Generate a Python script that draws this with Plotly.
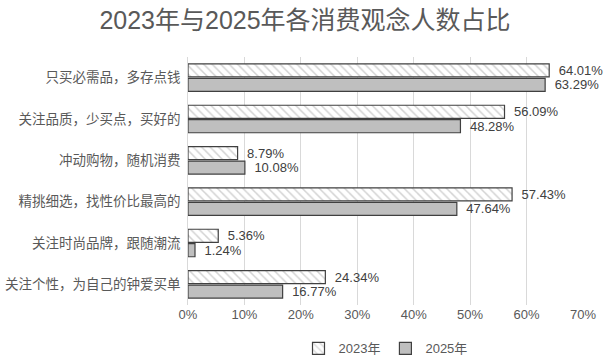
import plotly.graph_objects as go

categories = ["只买必需品，多存点钱", "关注品质，少买点，买好的", "冲动购物，随机消费",
              "精挑细选，找性价比最高的", "关注时尚品牌，跟随潮流", "关注个性，为自己的钟爱买单"]
v2023 = [64.01, 56.09, 8.79, 57.43, 5.36, 24.34]
v2025 = [63.29, 48.28, 10.08, 47.64, 1.24, 16.77]
ticks = [0, 10, 20, 30, 40, 50, 60, 70]

font = "Liberation Sans, Noto Sans CJK SC, sans-serif"
narrow = "Liberation Sans Narrow, Liberation Sans, sans-serif"

fig = go.Figure()
fig.add_trace(go.Bar(
    y=categories, x=v2023, orientation="h", name="2023年",
    marker=dict(color="white", line=dict(color="#404040", width=1.2),
                pattern=dict(shape="\\", fgcolor="#a6a6a6", bgcolor="white", size=6, solidity=0.25)),
    text=[f"\u2002{v:.2f}%" for v in v2023], textposition="outside", constraintext="none",
    textfont=dict(size=13, color="#404040", family=font), cliponaxis=False,
))
fig.add_trace(go.Bar(
    y=categories, x=v2025, orientation="h", name="2025年",
    marker=dict(color="#bfbfbf", line=dict(color="#404040", width=1.2)),
    text=[f"\u2002{v:.2f}%" for v in v2025], textposition="outside", constraintext="none",
    textfont=dict(size=13, color="#404040", family=font), cliponaxis=False,
))

fig.update_layout(
    width=610, height=362,
    margin=dict(l=188, r=27, t=57, b=57, autoexpand=False),
    paper_bgcolor="white", plot_bgcolor="white",
    title=dict(text="2023年与2025年各消费观念人数占比", x=0.5, xanchor="center", y=0.945, yanchor="middle",
               font=dict(size=25, color="#595959", family=font)),
    barmode="group", bargap=0.3, bargroupgap=0.1,
    font=dict(family=font, color="#595959", size=13),
    legend=dict(orientation="h", x=0.5, xanchor="center", y=-0.175, yanchor="middle",
                font=dict(size=13, color="#595959"), itemwidth=30, traceorder="normal"),
    showlegend=True,
)
fig.update_xaxes(range=[0, 70], tickvals=ticks, ticktext=[f"{t}%" for t in ticks],
                 showgrid=True, gridcolor="#d9d9d9", gridwidth=1, zeroline=False,
                 showline=False, tickfont=dict(size=13, color="#595959", family=narrow),
                 ticks="", automargin=False)
fig.update_yaxes(autorange="reversed", showline=True, linecolor="#d9d9d9", ticks="",
                 tickfont=dict(size=13.5, color="#595959"), ticksuffix=" ", automargin=False)

fig.write_html("out.html", config={"displayModeBar": False},
               post_script="document.body.style.margin='0';")
